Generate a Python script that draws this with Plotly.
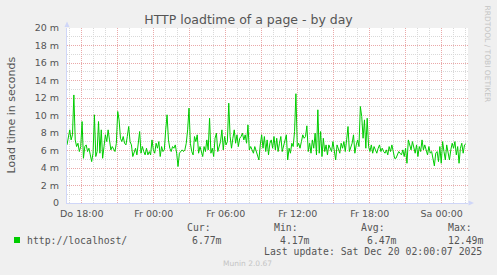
import pandas as pd
import plotly.graph_objects as go

# ---------------- data (milliseconds) ----------------
load_ms_part1 = [
    6.64, 7.60, 8.36, 7.21, 7.79, 12.35, 7.21, 6.45, 6.83, 5.88, 6.45, 9.31, 5.11, 6.45, 6.64,
    5.88, 6.26, 5.50, 4.73, 5.69, 10.08, 5.31, 5.88, 9.31, 5.69, 8.36, 5.11, 6.45, 7.79, 7.02,
    8.36, 7.21, 6.07, 6.45, 6.07, 5.88, 6.83, 10.46, 9.50, 7.40, 7.02, 7.60, 6.83, 6.64, 7.60,
    8.74, 7.02, 6.64, 5.31, 5.69, 6.26, 5.50, 6.83, 8.17, 5.69, 6.45, 5.88, 5.50, 6.26, 5.50,
    5.88, 5.50, 7.21, 6.07, 5.69, 6.83, 6.26, 7.02, 5.31, 6.45, 5.88, 6.07, 8.36, 10.08, 7.21,
    6.26, 5.88, 6.45, 6.26, 6.64, 5.69, 4.17, 5.69, 5.88, 6.07, 5.88, 6.07, 6.83, 8.36, 10.84,
    6.83, 5.88, 5.50, 7.60, 7.02, 7.79, 5.69, 6.45, 5.88, 5.31, 6.45, 5.88, 7.21, 6.07, 9.69,
    5.69, 6.26, 5.31, 7.40, 7.98, 5.88, 6.64, 7.02, 8.36, 6.07, 7.60, 6.64, 7.02, 11.41, 7.60,
    6.26, 7.40, 8.36, 6.83, 7.79, 6.45, 7.40, 7.60, 7.98, 7.21, 7.79, 6.83, 8.93, 6.07, 6.45,
    6.07, 5.69, 6.45, 5.88, 5.31, 4.92, 6.64, 7.79, 6.26, 7.60, 5.88, 7.21,
]
load_ms_part2 = [
    5.50, 6.83, 7.21, 6.26, 7.60, 6.07, 7.40, 5.88, 6.83, 7.60, 5.88, 6.64, 7.02, 7.79, 4.92,
    6.26, 5.69, 6.83, 6.45, 8.17, 12.49, 6.45, 6.83, 6.26, 7.02, 7.79, 7.40, 7.60, 8.82, 5.88,
    6.83, 5.69, 7.21, 6.26, 7.98, 5.50, 10.65, 5.69, 8.17, 5.31, 7.40, 5.88, 6.64, 5.50, 6.64,
    6.26, 5.88, 7.02, 5.88, 4.92, 6.64, 6.07, 5.69, 6.83, 6.26, 7.02, 5.88, 7.21, 8.74, 5.88,
    6.45, 6.83, 7.79, 5.69, 6.64, 7.21, 6.45, 11.03, 9.89, 7.40, 9.50, 6.26, 9.69, 6.45, 5.88,
    6.64, 5.69, 6.45, 6.07, 5.69, 6.26, 6.64, 5.88, 6.26, 5.88, 5.69, 6.07, 5.50, 6.45, 5.88,
    6.64, 5.69, 5.11, 5.11, 5.50, 5.88, 5.69, 5.50, 6.07, 5.31, 6.26, 4.54, 7.21, 6.64, 6.07,
    7.02, 6.26, 5.69, 6.64, 5.31, 6.45, 5.88, 7.21, 6.07, 6.64, 5.88, 5.50, 6.45, 5.69, 5.88,
    4.92, 4.24, 5.69, 5.88, 4.73, 6.45, 4.54, 7.02, 5.88, 4.92, 6.64, 5.50, 4.92, 6.07, 6.83,
    6.26, 7.02, 5.50, 6.45, 4.54, 6.26, 6.83, 5.69, 6.64, 6.77,
]
load_ms = load_ms_part1 + load_ms_part2
data_start = "2025-12-18 16:46"
data_end = "2025-12-20 02:01"
x_range = ["2025-12-18 16:46", "2025-12-20 02:11:30"]

y_ticks = [0, 2, 4, 6, 8, 10, 12, 14, 16, 18, 20]
y_ticklabels = ["0"] + [f"{v} m" for v in y_ticks[1:]]
x_ticks = ["2025-12-18 18:00", "2025-12-18 21:00", "2025-12-19 00:00", "2025-12-19 03:00",
           "2025-12-19 06:00", "2025-12-19 09:00", "2025-12-19 12:00", "2025-12-19 15:00",
           "2025-12-19 18:00", "2025-12-19 21:00", "2025-12-20 00:00"]
x_ticklabels = ["Do 18:00", "", "Fr 00:00", "", "Fr 06:00", "", "Fr 12:00", "",
                "Fr 18:00", "", "Sa 00:00"]

series_name = "http://localhost/"
stat_names = ["Cur:", "Min:", "Avg:", "Max:"]
stat_values = ["6.77m", "4.17m", "6.47m", "12.49m"]
title = "HTTP loadtime of a page - by day"
y_title = "Load time in seconds"
last_update = "Last update: Sat Dec 20 02:00:07 2025"
credit = "Munin 2.0.67"
side_text = "RRDTOOL / TOBI OETIKER"

# ---------------- layout geometry ----------------
W, H = 497, 275
L, R, T, B = 67, 29, 28, 72
PW, PH = W - L - R, H - T - B


def px(xp):
    return (xp - L) / PW


def py(yp):
    return (H - B - yp) / PH


times = pd.date_range(data_start, data_end, periods=len(load_ms))

FONT = "DejaVu Sans"
MONO = "DejaVu Sans Mono"
TXT = "#555555"
AXIS = "#CFD6F8"
MGRID = "#eaa8a8"
GRID = "#d9d9d9"
DOTS = "1px,1px"

fig = go.Figure()
fig.add_trace(go.Scatter(x=times, y=load_ms, mode="lines",
                         line=dict(color="#00cc00", width=1), hoverinfo="skip",
                         showlegend=False))

fig.update_layout(
    width=W, height=H, margin=dict(l=L, r=R, t=T, b=B, pad=0),
    paper_bgcolor="#f0f0f0", plot_bgcolor="#ffffff",
    font=dict(family=FONT, size=9.5, color=TXT),
    title=dict(text=title, x=0.5, xref="container", xanchor="center",
               y=1 - 19.5 / H, yanchor="middle",
               font=dict(family=FONT, size=12.5, color=TXT)),
)

fig.update_xaxes(
    type="date", range=x_range, tickmode="array", tickvals=x_ticks, ticktext=x_ticklabels,
    showgrid=True, gridcolor=MGRID, griddash=DOTS, gridwidth=1,
    minor=dict(dtick=3600000, tick0="2025-12-18 16:00", showgrid=True,
               gridcolor=GRID, griddash=DOTS, gridwidth=1),
    showline=True, linecolor=AXIS, linewidth=1, zeroline=False, ticks="",
    tickfont=dict(family=FONT, size=9.5, color=TXT), ticklabelstandoff=2,
)
fig.update_yaxes(
    range=[0, 20], tickmode="array", tickvals=y_ticks, ticktext=y_ticklabels,
    showgrid=True, gridcolor=MGRID, griddash=DOTS, gridwidth=1,
    minor=dict(dtick=1, tick0=0, showgrid=True, gridcolor=GRID, griddash=DOTS, gridwidth=1),
    showline=True, linecolor=AXIS, linewidth=1, zeroline=False, ticks="",
    tickfont=dict(family=FONT, size=9.5, color=TXT), ticklabelstandoff=5,
)

shapes = []
# axis arrows
shapes.append(dict(type="path", xref="paper", yref="paper",
                   path=f"M {px(64.5)} {py(27)} L {px(69.5)} {py(27)} L {px(67)} {py(21.5)} Z",
                   fillcolor=AXIS, line=dict(width=0)))
shapes.append(dict(type="path", xref="paper", yref="paper",
                   path=f"M {px(468.5)} {py(200.5)} L {px(468.5)} {py(205.5)} L {px(474)} {py(203)} Z",
                   fillcolor=AXIS, line=dict(width=0)))
# legend colour square
shapes.append(dict(type="rect", xref="paper", yref="paper",
                   x0=px(14), x1=px(20), y0=py(243), y1=py(237),
                   fillcolor="#00cc00", line=dict(width=0)))
fig.update_layout(shapes=shapes)

ann = []
ann.append(dict(text=y_title, x=px(11), y=py(115.5), xref="paper", yref="paper",
                textangle=-90, showarrow=False, xanchor="center", yanchor="middle",
                font=dict(family=FONT, size=11, color=TXT)))
ann.append(dict(text=side_text, x=px(487), y=py(53.5), xref="paper", yref="paper",
                textangle=90, showarrow=False, xanchor="center", yanchor="middle",
                font=dict(family=FONT, size=7.5, color="#c4c4c4")))
ann.append(dict(text=series_name, x=px(26), y=py(240), xref="paper", yref="paper",
                showarrow=False, xanchor="left", yanchor="middle",
                font=dict(family=MONO, size=9.8, color=TXT)))
name_x = [185.7, 272.7, 360.0, 446.7]
val_x = [191.0, 279.3, 366.0, 446.7]
for nm, vl, nx, vx in zip(stat_names, stat_values, name_x, val_x):
    ann.append(dict(text=nm, x=px(nx), y=py(227.5), xref="paper", yref="paper",
                    showarrow=False, xanchor="left", yanchor="middle",
                    font=dict(family=MONO, size=9.8, color=TXT)))
    ann.append(dict(text=vl, x=px(vx), y=py(240), xref="paper", yref="paper",
                    showarrow=False, xanchor="left", yanchor="middle",
                    font=dict(family=MONO, size=9.8, color=TXT)))
ann.append(dict(text=last_update, x=px(482.5), y=py(251.8), xref="paper", yref="paper",
                showarrow=False, xanchor="right", yanchor="middle",
                font=dict(family=MONO, size=9.8, color=TXT)))
ann.append(dict(text=credit, x=px(247.5), y=py(263.5), xref="paper", yref="paper",
                showarrow=False, xanchor="center", yanchor="middle",
                font=dict(family=FONT, size=7.5, color="#c4c4c4")))
for a in ann:
    a["borderpad"] = 0
fig.update_layout(annotations=ann)

fig.write_html("out.html")
